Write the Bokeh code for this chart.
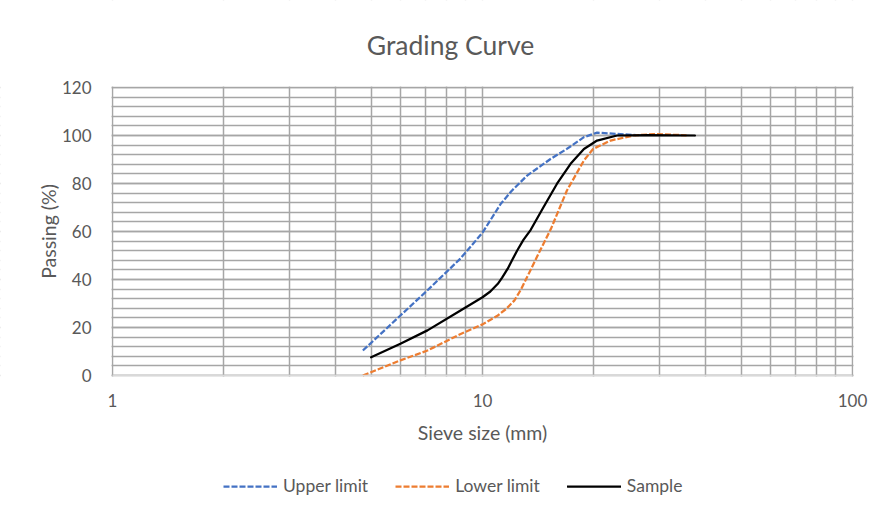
import math
from bokeh.plotting import figure
from bokeh.models import Range1d, FixedTicker, Legend, LegendItem, BoxAnnotation, Label
from bokeh.embed import file_html
from bokeh.resources import INLINE

# Values
upper_size = [4.75, 6.0, 7.1, 8.7, 10.0, 11.2, 12.0, 13.2, 15.3, 16.9, 18.8, 20.4, 23.0, 26.0]
upper_pass = [10.4, 25.0, 35.5, 48.6, 59.5, 71.5, 77.0, 83.3, 90.3, 94.4, 99.3, 101.2, 100.7, 100.2]

lower_size = [4.75, 6.0, 7.1, 8.7, 10.0, 11.0, 11.6, 12.2, 12.7, 13.2, 14.3, 15.3, 16.9, 18.8, 19.9, 22.2, 25.6, 29.0, 35.6]
lower_pass = [0.0, 6.3, 10.4, 17.2, 21.3, 25.0, 27.8, 31.3, 35.8, 41.0, 52.0, 61.0, 77.0, 89.6, 94.4, 97.9, 100.0, 100.6, 100.1]

sample_size = [5.0, 6.0, 7.1, 8.7, 10.0, 10.5, 11.0, 11.3, 11.7, 12.0, 12.4, 12.9, 13.5, 14.6, 15.9, 17.3, 18.8, 20.4, 23.1, 28.0, 37.5]
sample_pass = [7.6, 13.2, 18.8, 27.0, 32.6, 35.0, 38.2, 40.8, 44.5, 47.8, 52.0, 56.5, 60.7, 70.0, 79.9, 88.2, 94.4, 97.9, 100.0, 100.2, 100.0]

x_major = [1, 10, 100]
x_minor = [2, 3, 4, 5, 6, 7, 8, 9, 20, 30, 40, 50, 60, 70, 80, 90]
y_major = [0, 20, 40, 60, 80, 100, 120]
y_minor = [v for v in range(0, 121, 4)]
X_MIN, X_MAX = 1, 100
Y_MIN, Y_MAX = 0, 120

FONT = "Lato"
TXT = "#595959"
GRID = "#A6A6A6"

# layout constants (pixels)
W, H = 878, 511
PLOT_L, PLOT_R = 112, 852           # where x = 1 and x = 100 sit
PLOT_T = 87                         # where y = 120 sits
PX_DEC = (PLOT_R - PLOT_L) / 2.0    # pixels per decade
PX_PCT = 2.4                        # pixels per percent


def x_at(px):
    return 10 ** ((px - PLOT_L) / PX_DEC)


def y_at(py):
    return Y_MAX - (py - PLOT_T) / PX_PCT


p = figure(frame_width=W, frame_height=H, x_axis_type="log", output_backend="svg",
           toolbar_location=None, x_range=Range1d(x_at(0), x_at(W)),
           y_range=Range1d(y_at(H), y_at(0)),
           min_border_left=0, min_border_right=0, min_border_top=0, min_border_bottom=0)
p.outline_line_color = None
p.background_fill_color = "white"
p.border_fill_color = "white"

p.xaxis.ticker = FixedTicker(ticks=x_major, minor_ticks=x_minor)
p.yaxis.ticker = FixedTicker(ticks=y_major, minor_ticks=y_minor)
p.xaxis.major_label_overrides = {1: "1", 10: "10", 100: "100"}
p.xaxis.fixed_location = Y_MIN
p.xaxis.bounds = (X_MIN, X_MAX)
p.yaxis.fixed_location = X_MIN
p.yaxis.bounds = (Y_MIN, Y_MAX)

for ax in (p.xaxis[0], p.yaxis[0]):
    ax.major_tick_line_color = None
    ax.minor_tick_line_color = None
    ax.major_tick_out = 0
    ax.major_label_text_font = FONT
    ax.major_label_text_font_size = "17px"
    ax.major_label_text_color = TXT
    ax.axis_label_text_font = FONT
    ax.axis_label_text_font_size = "19.5px"
    ax.axis_label_text_font_style = "normal"
    ax.axis_label_text_color = TXT

p.xaxis.axis_label = "Sieve size (mm)"
p.xaxis.axis_line_color = "#D9D9D9"
p.xaxis.axis_line_width = 1.5
p.yaxis.axis_line_color = None
p.xaxis.major_label_standoff = 14
p.yaxis.major_label_standoff = 17
p.xaxis.axis_label_standoff = 11

# chart title
p.add_layout(Label(x=x_at(450), y=y_at(44), text="Grading Curve",
                   text_align="center", text_baseline="middle", text_font=FONT,
                   text_font_size="26.5px", text_color=TXT))

# y axis title, centred on the 0-120 span
p.add_layout(Label(x=x_at(48), y=(Y_MIN + Y_MAX) / 2, text="Passing (%)", angle=math.pi / 2,
                   text_align="center", text_baseline="middle", text_font=FONT,
                   text_font_size="19.5px", text_color=TXT))

for g in (p.xgrid[0], p.ygrid[0]):
    g.grid_line_color = GRID
    g.grid_line_width = 1.5
    g.minor_grid_line_color = GRID
    g.minor_grid_line_width = 1.5

# keep the grid inside the 1-100 x 0-120 plot area
far_l, far_r = x_at(-200), x_at(W + 200)
for kw in (dict(left=far_l, right=x_at(PLOT_L - 1), bottom=-1000, top=1000),
           dict(left=x_at(PLOT_R + 1), right=far_r, bottom=-1000, top=1000),
           dict(left=far_l, right=far_r, top=Y_MIN - 1 / PX_PCT, bottom=-1000),
           dict(left=far_l, right=far_r, bottom=Y_MAX + 1 / PX_PCT, top=1000)):
    p.add_layout(BoxAnnotation(fill_color="white", fill_alpha=1.0, line_color=None,
                               level="underlay", **kw))

r_up = p.line(upper_size, upper_pass, line_color="#4472C4", line_width=2.25,
              line_dash="6 2", line_join="round")
r_lo = p.line(lower_size, lower_pass, line_color="#ED7D31", line_width=2.25,
              line_dash="6 2", line_join="round")
r_sa = p.line(sample_size, sample_pass, line_color="#000000", line_width=2.25,
              line_join="round", line_cap="round")

legend = Legend(items=[LegendItem(label="Upper limit", renderers=[r_up]),
                       LegendItem(label="Lower limit", renderers=[r_lo]),
                       LegendItem(label="Sample", renderers=[r_sa])],
                orientation="horizontal", location=(223, 15))
legend.border_line_color = None
legend.background_fill_alpha = 0
legend.padding = 0
legend.margin = 0
legend.glyph_width = 54
legend.label_standoff = 6
legend.spacing = 27
legend.label_text_font = FONT
legend.label_text_font_size = "17.5px"
legend.label_text_color = TXT
p.add_layout(legend, "center")

open("out.html", "w").write(file_html(p, INLINE))
